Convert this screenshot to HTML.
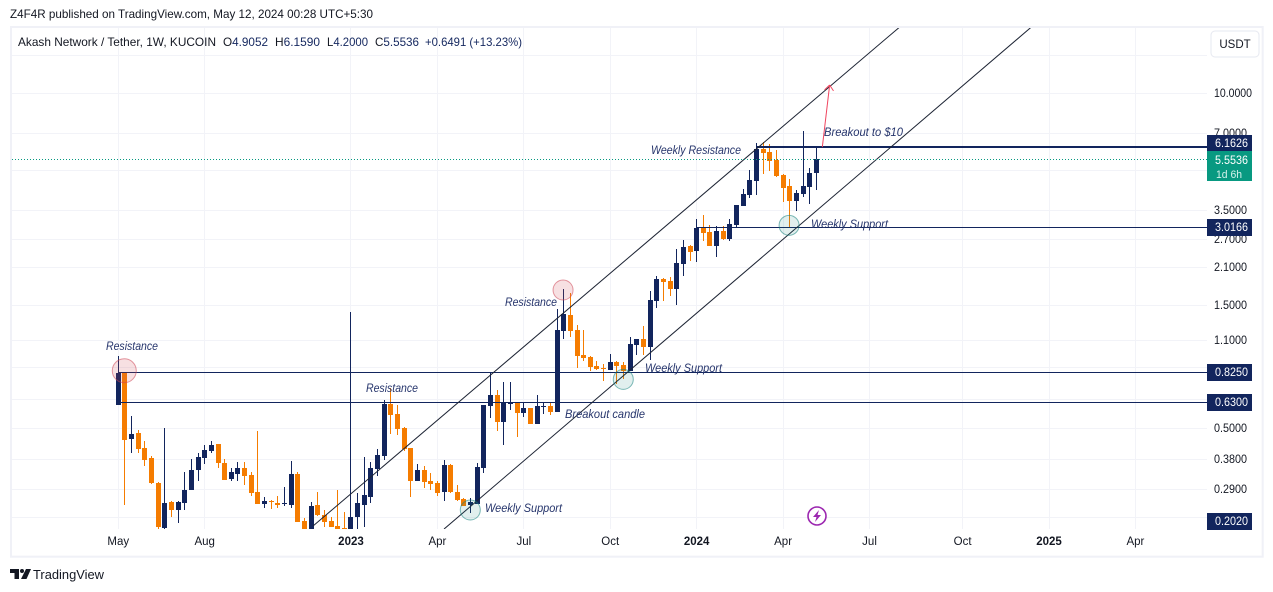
<!DOCTYPE html>
<html lang="en">
<head>
<meta charset="utf-8">
<title>Akash Network / Tether weekly chart</title>
<style>
html,body{margin:0;padding:0;background:#fff;width:1273px;height:592px;overflow:hidden}
svg{display:block;font-family:"Liberation Sans",sans-serif}
.note{font-style:italic;font-size:12px;fill:#26356c}
</style>
</head>
<body>
<svg id="chart" xmlns="http://www.w3.org/2000/svg" width="1273" height="592" viewBox="0 0 1273 592">
  <defs>
    <clipPath id="pane"><rect x="12" y="28" width="1195" height="501"/></clipPath>
  </defs>
  <rect x="0" y="0" width="1273" height="592" fill="#ffffff"/>
  <text x="10" y="18" font-size="12" fill="#131722" textLength="363" lengthAdjust="spacingAndGlyphs">Z4F4R published on TradingView.com, May 12, 2024 00:28 UTC+5:30</text>
  <rect x="11" y="27" width="1251.7" height="529.7" fill="none" stroke="#f0f1f7" stroke-width="2"/>
  <g id="grid"></g>
  <g id="candles" clip-path="url(#pane)"></g>
  <g id="drawings" clip-path="url(#pane)"></g>
  <line id="lastLine" x1="12" x2="1207" stroke="#089981" stroke-width="1" stroke-dasharray="1 2"/>
  <g>
    <text class="note" x="106" y="350" textLength="52" lengthAdjust="spacingAndGlyphs">Resistance</text>
    <text class="note" x="366" y="392" textLength="52" lengthAdjust="spacingAndGlyphs">Resistance</text>
    <text class="note" x="505" y="306" textLength="52" lengthAdjust="spacingAndGlyphs">Resistance</text>
    <text class="note" x="651" y="154" textLength="90" lengthAdjust="spacingAndGlyphs">Weekly Resistance</text>
    <text class="note" x="824" y="136" textLength="79" lengthAdjust="spacingAndGlyphs">Breakout to $10</text>
    <text class="note" x="811" y="228" textLength="77" lengthAdjust="spacingAndGlyphs">Weekly Support</text>
    <text class="note" x="645" y="372" textLength="77" lengthAdjust="spacingAndGlyphs">Weekly Support</text>
    <text class="note" x="565" y="418" textLength="80" lengthAdjust="spacingAndGlyphs">Breakout candle</text>
    <text class="note" x="485" y="512" textLength="77" lengthAdjust="spacingAndGlyphs">Weekly Support</text>
  </g>
  <g font-size="12">
    <text x="18" y="46" fill="#131722" textLength="198" lengthAdjust="spacingAndGlyphs">Akash Network / Tether, 1W, KUCOIN</text>
    <text x="223" y="46" fill="#14275f" textLength="45" lengthAdjust="spacingAndGlyphs"><tspan fill="#131722">O</tspan>4.9052</text>
    <text x="275" y="46" fill="#14275f" textLength="45" lengthAdjust="spacingAndGlyphs"><tspan fill="#131722">H</tspan>6.1590</text>
    <text x="327" y="46" fill="#14275f" textLength="41" lengthAdjust="spacingAndGlyphs"><tspan fill="#131722">L</tspan>4.2000</text>
    <text x="375" y="46" fill="#14275f" textLength="44" lengthAdjust="spacingAndGlyphs"><tspan fill="#131722">C</tspan>5.5536</text>
    <text x="425" y="46" fill="#14275f" textLength="97" lengthAdjust="spacingAndGlyphs">+0.6491 (+13.23%)</text>
  </g>
  <g>
    <rect x="1211" y="31" width="48" height="26" rx="4" fill="#ffffff" stroke="#e6e8f0" stroke-width="1"/>
    <text x="1235" y="48" text-anchor="middle" font-size="11.5" fill="#131722">USDT</text>
  </g>
  <g id="priceAxis" font-size="11.5"></g>
  <g id="timeAxis" font-size="11.5"></g>
  <g>
    <circle cx="817" cy="516" r="9" fill="#ffffff" stroke="#9c27b0" stroke-width="1.6"/>
    <polygon points="819,510 813,517 816.5,517 815,522 821,515 817.5,515" fill="#9c27b0"/>
  </g>
  <g>
    <path d="M10 569h9v10h-4.5v-6H10z" fill="#131722"/>
    <circle cx="22" cy="571" r="2" fill="#131722"/>
    <polygon points="26,569 31,569 26.5,579 21,579" fill="#131722"/>
    <text x="33" y="579" font-size="13" fill="#131722" textLength="71" lengthAdjust="spacingAndGlyphs">TradingView</text>
  </g>
</svg>
<script>
// Weekly candles, first week = 2 May 2022
const opens = [
0.6138,0.8171,0.4527,0.4777,0.4177,0.3820,0.3055,0.2042,0.2578,0.2400,
0.2554,0.2869,0.3431,0.3820,0.4066,0.4329,0.3654,0.3165,0.3310,0.3494,
0.3281,0.2818,0.2532,0.2601,0.2554,0.2532,0.2509,0.3310,0.2174,0.2006,
0.2509,0.2295,0.2174,0.2079,0.2042,0.2006,0.2254,0.2509,0.2695,0.3463,
0.3888,0.6192,0.5662,0.4996,0.4177,0.3110,0.3431,0.3110,0.3055,0.2818,
0.3589,0.2818,0.2647,0.2509,0.2532,0.3494,0.6082,0.6711,0.5272,0.6192,
0.6248,0.5713,0.5975,0.5178,0.6028,0.6082,0.5765,1.189,1.372,1.200,
0.9601,0.9430,0.8699,0.8545,0.8393,0.9017,0.8778,0.8318,1.050,1.107,
1.031,1.556,1.894,1.860,1.732,2.166,2.545,2.433,2.989,2.884,
2.545,2.910,2.709,3.071,3.639,4.016,4.551,6.060,5.900,5.492,
4.802,4.352,3.806,4.052,4.313,4.9052];
const highs = [
0.9515,0.8171,0.5562,0.4907,0.4447,0.3888,0.3082,0.4996,0.2601,0.2601,
0.3370,0.3785,0.3994,0.4291,0.4447,0.4329,0.3785,0.3494,0.3687,0.3687,
0.3370,0.4863,0.2695,0.2624,0.2719,0.2948,0.3720,0.3370,0.2234,0.2578,
0.2818,0.2400,0.2254,0.2869,0.2358,1.410,0.2793,0.3854,0.3687,0.4140,
0.6418,0.7145,0.6138,0.5041,0.4177,0.3621,0.3557,0.3340,0.3110,0.3753,
0.3621,0.3001,0.2671,0.2671,0.3654,0.6138,0.8171,0.7018,0.7539,0.7539,
0.6248,0.6248,0.5975,0.6711,0.6304,0.6304,1.448,1.732,1.672,1.256,
1.200,0.9515,0.9097,0.8856,0.9687,0.9097,0.9017,1.127,1.107,1.244,
1.702,1.946,1.911,1.928,2.477,2.685,2.568,3.240,3.358,3.071,
3.043,3.043,3.240,3.672,4.237,5.022,6.394,6.452,6.337,6.006,
4.845,4.633,4.200,7.118,5.112,6.1590];
const lows = [
0.6138,0.2509,0.3994,0.3994,0.3557,0.3028,0.2024,0.2020,0.2254,0.2136,
0.2400,0.2869,0.3110,0.3621,0.3994,0.3494,0.3138,0.3110,0.3110,0.3001,
0.2719,0.2532,0.2443,0.2421,0.2443,0.2487,0.2443,0.2155,0.1990,0.1990,
0.2274,0.2061,0.2061,0.1990,0.1990,0.1990,0.2024,0.2061,0.2554,0.3252,
0.3753,0.4734,0.4693,0.4066,0.2695,0.3110,0.2921,0.2869,0.2719,0.2601,
0.2793,0.2601,0.2487,0.2336,0.2532,0.3340,0.5463,0.4863,0.4291,0.5869,
0.4609,0.5513,0.5178,0.5178,0.5662,0.5612,0.5765,1.107,1.127,0.8545,
0.9097,0.8318,0.8393,0.7607,0.8393,0.7405,0.7743,0.8318,0.9601,0.9601,
0.9179,1.462,1.556,1.627,1.501,1.946,2.225,2.205,2.661,2.545,
2.306,2.685,2.661,3.016,3.639,3.910,4.016,4.845,4.977,4.717,
3.772,3.016,3.481,3.945,3.705,4.2000];
const closes = [
0.8171,0.4487,0.4734,0.4140,0.3753,0.3055,0.2061,0.2554,0.2400,0.2578,
0.2869,0.3431,0.3854,0.4103,0.4291,0.3654,0.3138,0.3370,0.3494,0.3252,
0.2793,0.2532,0.2601,0.2578,0.2509,0.2554,0.3310,0.2155,0.2006,0.2487,
0.2295,0.2155,0.2061,0.2006,0.2024,0.2254,0.2554,0.2744,0.3494,0.3924,
0.6192,0.5612,0.4952,0.4140,0.3110,0.3431,0.3082,0.3028,0.2793,0.3589,
0.2818,0.2624,0.2487,0.2578,0.3525,0.6138,0.6711,0.5272,0.6248,0.6248,
0.5713,0.5975,0.5178,0.6082,0.6082,0.5765,1.200,1.384,1.189,0.9515,
0.9346,0.8622,0.8469,0.8469,0.9017,0.8699,0.8318,1.059,1.107,1.031,
1.570,1.894,1.844,1.732,2.186,2.522,2.412,2.989,2.858,2.545,
2.910,2.709,3.098,3.672,4.052,4.592,6.060,5.847,5.443,4.759,
4.275,3.806,4.089,4.352,4.889,5.5536];

// Axis data
const gridPrices = [14,10,7,5,3.5,2.7,2.1,1.5,1.1,0.86,0.65,0.5,0.38,0.29,0.226];
const priceTicks = [10,7,3.5,2.7,2.1,1.5,1.1,0.5,0.38,0.29];
const priceTickLabels = ["10.0000","7.0000","3.5000","2.7000","2.1000","1.5000","1.1000","0.5000","0.3800","0.2900"];
const timeTickWeeks = [0,13,35,48,61,74,87,100,113,127,140,153];
const timeTickLabels = ["May","Aug","2023","Apr","Jul","Oct","2024","Apr","Jul","Oct","2025","Apr"];
const timeTickMajor = [false,false,true,false,false,false,true,false,false,false,true,false];

// Price levels drawn on the chart
const levelPrices = [6.1626,3.0166,0.8250,0.6300];
const levelStartWeeks = [96,87,0,0];
const levelWidths = [2,1,1,1];
const levelLabels = ["6.1626","3.0166","0.8250","0.6300"];
const lastPrice = 5.5536;
const lowLabelPrice = 0.2020;

// Channel lines [week, price] endpoints
const channelStartWeeks = [29.29,49.0];
const channelStartPrices = [0.2079,0.2024];
const channelEndWeeks = [118.8,138.6];
const channelEndPrices = [19.23,19.23];

// Highlight circles
const markerWeeks = [0.9,66.9,52.95,75.96,100.9];
const markerPrices = [0.834,1.717,0.240,0.772,3.062];
const markerRadii = [12,10,10,10,10];
const markerKinds = ["res","res","sup","sup","sup"];

// Breakout arrow
const arrowWeeks = [105.9,107.0];
const arrowPrices = [6.1626,10.74];

const NS = "http://www.w3.org/2000/svg";
function xScale(week){ return 118.3 + 6.648 * week; }
function yScale(price){ return 93 + 111.8 * Math.log(10 / price); }
function make(tag, parent, attrs){
  const el = document.createElementNS(NS, tag);
  for (const k in attrs) el.setAttribute(k, attrs[k]);
  parent.appendChild(el);
  return el;
}
const NAVY = "#12255d", ORANGE = "#f57c00", GRID = "#f2f3f8", INK = "#131722";

// Grid
const gridG = document.getElementById("grid");
gridPrices.forEach(function(p){
  const y = Math.round(yScale(p)) + 0.5;
  const el = make("line", gridG, {x1:12, x2:1207, y1:y, y2:y, stroke:GRID, "stroke-width":1});
  
  
});
timeTickWeeks.forEach(function(w){
  const x = Math.floor(xScale(w)) + 0.5;
  const el = make("line", gridG, {x1:x, x2:x, y1:28, y2:529, stroke:GRID, "stroke-width":1});
  
  
});

// Candles
const candleG = document.getElementById("candles");
opens.forEach(function(o, i){
  const c = closes[i];
  const color = c >= o ? NAVY : ORANGE;
  const x = Math.floor(xScale(i));
  const yh = Math.round(yScale(highs[i]));
  const yl = Math.round(yScale(lows[i]));
  const yt = Math.round(yScale(Math.max(o, c)));
  const yb = Math.round(yScale(Math.min(o, c)));
  const wick = make("rect", candleG, {x:x, y:yh, width:1, height:Math.max(1, yl - yh), fill:color, "shape-rendering":"crispEdges"});
  
  
  const body = make("rect", candleG, {x:x - 2, y:yt, width:5, height:Math.max(1, yb - yt), fill:color, "shape-rendering":"crispEdges"});
  
  
});

// Drawings
const drawG = document.getElementById("drawings");
levelPrices.forEach(function(p, i){
  const y = Math.round(yScale(p)) + (levelWidths[i] === 2 ? 0 : 0.5);
  const el = make("line", drawG, {x1:xScale(levelStartWeeks[i]), x2:1207, y1:y, y2:y, stroke:NAVY, "stroke-width":levelWidths[i]});
  
  
});
channelStartWeeks.forEach(function(w, i){
  const el = make("line", drawG, {x1:xScale(w), y1:yScale(channelStartPrices[i]), x2:xScale(channelEndWeeks[i]), y2:yScale(channelEndPrices[i]), stroke:"#1c2333", "stroke-width":1});
  
  
});
markerWeeks.forEach(function(w, i){
  const res = markerKinds[i] === "res";
  const el = make("circle", drawG, {cx:xScale(w), cy:yScale(markerPrices[i]), r:markerRadii[i],
    fill: res ? "rgba(205,70,85,0.17)" : "rgba(20,130,125,0.13)",
    stroke: res ? "rgba(205,70,85,0.55)" : "rgba(20,130,125,0.55)", "stroke-width":1});
  
  
});
(function(){
  const x1 = xScale(arrowWeeks[0]), y1 = yScale(arrowPrices[0]);
  const x2 = xScale(arrowWeeks[1]), y2 = yScale(arrowPrices[1]);
  const shaft = make("line", drawG, {x1:x1, y1:y1, x2:x2, y2:y2, stroke:"#f0455f", "stroke-width":1});
  
  
  const a = Math.atan2(y2 - y1, x2 - x1);
  [0.7, -0.7].forEach(function(d){
    const barb = make("line", drawG, {x1:x2, y1:y2, x2:x2 - 7 * Math.cos(a + d), y2:y2 - 7 * Math.sin(a + d), stroke:"#f0455f", "stroke-width":1});
    
    
  });
})();

// Last price line
const lastLine = document.getElementById("lastLine");
const lastY = Math.round(yScale(lastPrice)) + 0.5;
lastLine.setAttribute("y1", lastY);
lastLine.setAttribute("y2", lastY);

// Price axis
const priceG = document.getElementById("priceAxis");
priceTicks.forEach(function(p, i){
  const t = make("text", priceG, {x:1214, y:Math.round(yScale(p)) + 4, fill:INK, textLength:priceTickLabels[i].length === 7 ? 38 : 33, lengthAdjust:"spacingAndGlyphs"});
  t.textContent = priceTickLabels[i];
  
  
});
function priceBox(text, centerY){
  const r = make("rect", priceG, {x:1207, y:centerY - 8, width:45, height:17, fill:NAVY});
  
  
  const t = make("text", priceG, {x:1215, y:centerY + 4, fill:"#ffffff", textLength:33, lengthAdjust:"spacingAndGlyphs"});
  t.textContent = text;
  
  
}
levelPrices.forEach(function(p, i){
  let cy = Math.round(yScale(p));
  if (cy + 9 > lastY - 8 && cy < lastY) cy = Math.round(lastY - 8.5) - 8;
  priceBox(levelLabels[i], cy);
});
priceBox(lowLabelPrice.toFixed(4), Math.min(Math.round(yScale(lowLabelPrice)), 521));

const greenBox = make("rect", priceG, {x:1207, y:Math.round(lastY - 8.5), width:45, height:30, fill:"#089981"});


const greenText = make("text", priceG, {x:1215, y:Math.round(lastY + 4), fill:"#ffffff", textLength:33, lengthAdjust:"spacingAndGlyphs"});
greenText.textContent = lastPrice.toFixed(4);


const countdown = make("text", priceG, {x:1216, y:Math.round(lastY + 18), fill:"#d5f2ec", "font-size":"11", textLength:26, lengthAdjust:"spacingAndGlyphs"});
countdown.textContent = "1d 6h";



// Time axis
const timeG = document.getElementById("timeAxis");
timeTickWeeks.forEach(function(w, i){
  const t = make("text", timeG, {x:xScale(w), y:545, "text-anchor":"middle", fill:INK, "font-weight":timeTickMajor[i] ? "bold" : "normal"});
  t.textContent = timeTickLabels[i];
  
  
});
</script>
</body>
</html>
